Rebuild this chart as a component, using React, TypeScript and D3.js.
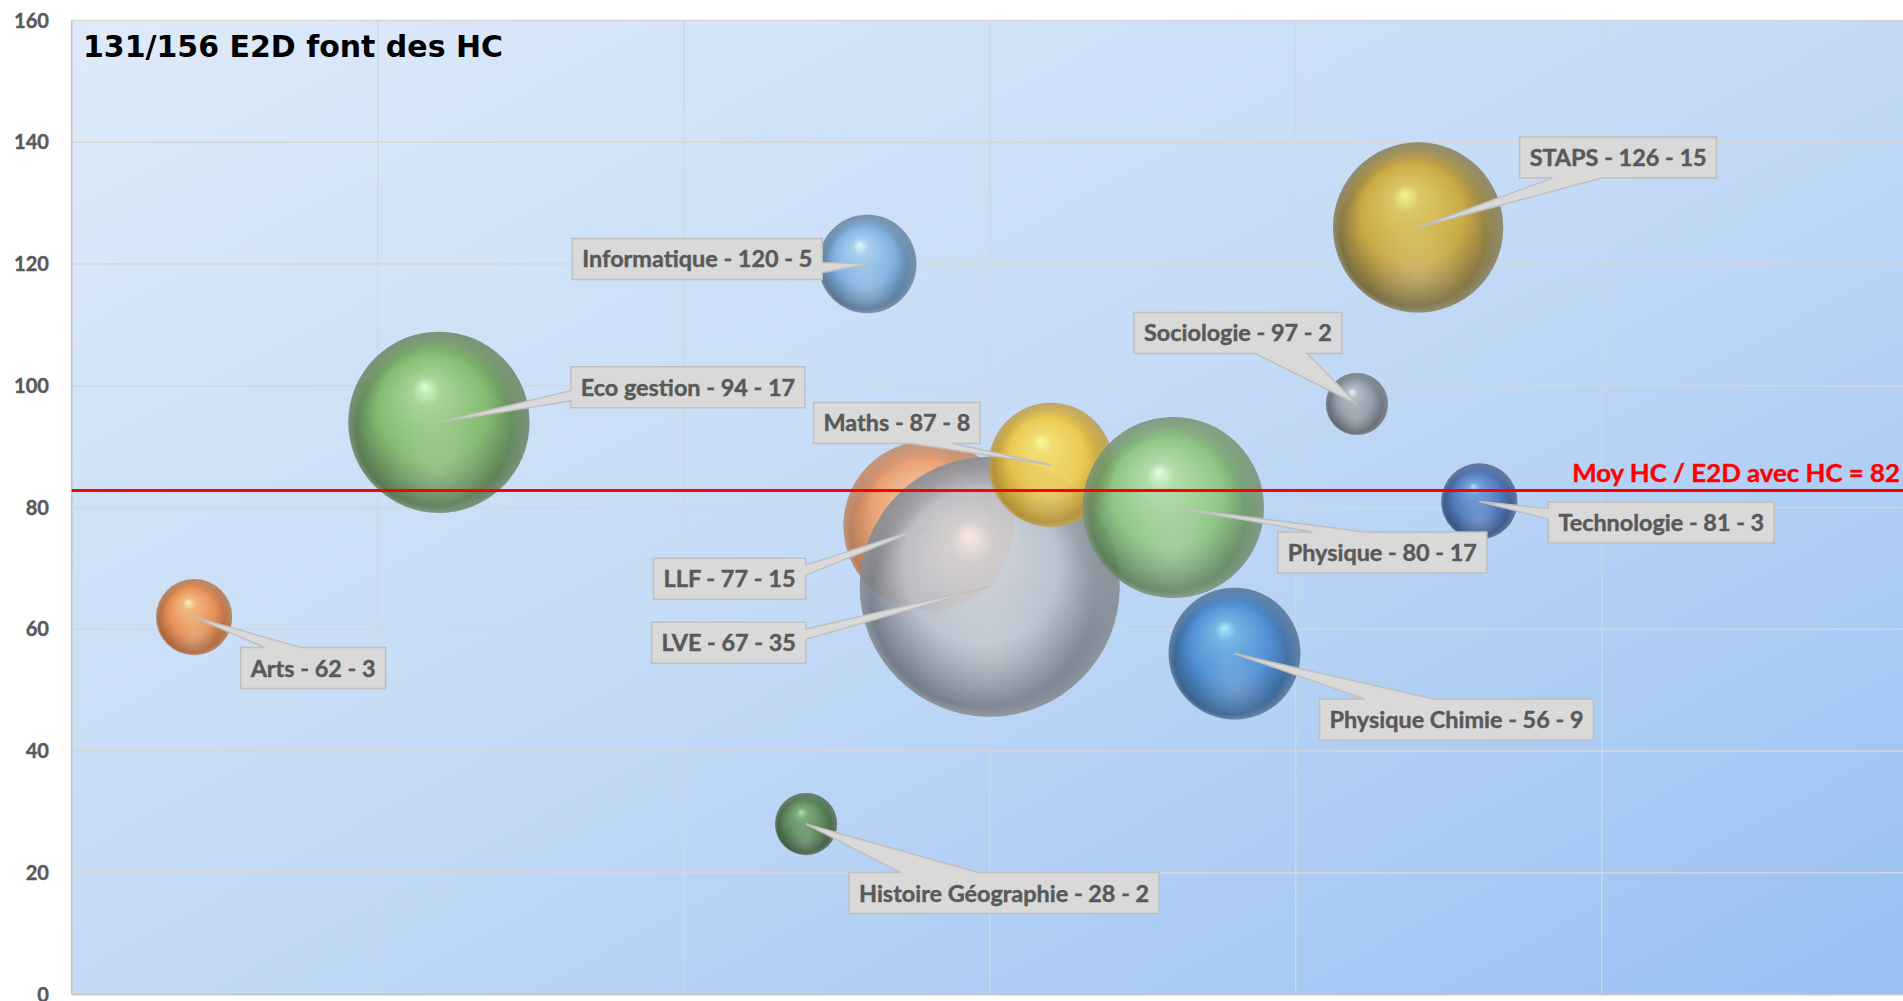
import React, { useMemo } from 'react';
import * as d3 from 'd3';

// ---------- data ----------
const subjects = ['Arts', 'Eco gestion', 'Histoire Géographie', 'Informatique', 'LLF', 'LVE', 'Maths', 'Physique', 'Physique Chimie', 'Sociologie', 'STAPS', 'Technologie'];
const xIndex = [2, 6, 12, 13, 14, 15, 16, 18, 19, 21, 22, 23];
const hcPerE2D = [62, 94, 28, 120, 77, 67, 87, 80, 56, 97, 126, 81];
const e2dCount = [3, 17, 2, 5, 15, 35, 8, 17, 9, 2, 15, 3];
const yTicks = [0, 20, 40, 60, 80, 100, 120, 140, 160];
const xGrid = [0, 5, 10, 15, 20, 25, 30];
const meanHC = 82.8;
const meanLabel = 'Moy HC / E2D avec HC = 82';
const title = '131/156 E2D font des HC';

// ---------- styles / layout ----------
const bubbleColors = [
  { hi: '#FFF4B0', base: '#EC8A48', dark: '#9E5324' },
  { hi: '#DDFFCC', base: '#7DB863', dark: '#45643F' },
  { hi: '#B0E6A8', base: '#54814F', dark: '#30482E' },
  { hi: '#E6FCFF', base: '#7BAEE0', dark: '#44627F' },
  { hi: '#FFE6BC', base: '#EF9C68', dark: '#A86A44' },
  { hi: '#FBF2EC', base: '#B9C0CA', dark: '#626872' },
  { hi: '#FFFF98', base: '#F1C843', dark: '#A8821F' },
  { hi: '#E8FFDC', base: '#8CC57C', dark: '#52724F' },
  { hi: '#A4F0FF', base: '#4789D0', dark: '#27507C' },
  { hi: '#EEF4FC', base: '#8D959F', dark: '#50555C' },
  { hi: '#F8F58A', base: '#CBA533', dark: '#655A2E' },
  { hi: '#ACD8FF', base: '#4874BA', dark: '#29416E' },
];
// label box centre relative to bubble centre (px)
const labelOffsets: [number, number][] = [
  [119, 51], [249, -35], [198, 69], [-170, -5], [-199, 53], [-261, 56],
  [-154, -42], [209, 45], [222, 66], [-119, -71], [200, -70], [182, 21],
];

const W = 1903;
const H = 1001;
const plot = { left: 71.7, right: 1907.7, top: 20.5, bottom: 994.5 };

let ctx: CanvasRenderingContext2D | null = null;
function measure(text: string, font: string): number {
  if (!ctx) ctx = document.createElement('canvas').getContext('2d');
  if (!ctx) return text.length * 50;
  ctx.font = font;
  return ctx.measureText(text).width;
}

function calloutPath(bx: number, by: number, w: number, h: number, tx: number, ty: number): string {
  const cx = bx + w / 2, cy = by + h / 2;
  const ndx = (tx - cx) / w, ndy = (ty - cy) / h;
  const r = bx + w, b = by + h;
  const inside = Math.abs(ndx) <= 0.5 && Math.abs(ndy) <= 0.5;
  let side = 'none';
  if (!inside) {
    if (Math.abs(ndy) >= Math.abs(ndx)) side = ndy < 0 ? 'top' : 'bottom';
    else side = ndx < 0 ? 'left' : 'right';
  }
  const xa = tx < cx ? [bx + w / 6, bx + (5 * w) / 12] : [bx + (7 * w) / 12, bx + (5 * w) / 6];
  const ya = ty < cy ? [by + h / 6, by + (5 * h) / 12] : [by + (7 * h) / 12, by + (5 * h) / 6];
  let p = `M${bx},${by}`;
  if (side === 'top') p += `L${xa[0]},${by}L${tx},${ty}L${xa[1]},${by}`;
  p += `L${r},${by}`;
  if (side === 'right') p += `L${r},${ya[0]}L${tx},${ty}L${r},${ya[1]}`;
  p += `L${r},${b}`;
  if (side === 'bottom') p += `L${xa[1]},${b}L${tx},${ty}L${xa[0]},${b}`;
  p += `L${bx},${b}`;
  if (side === 'left') p += `L${bx},${ya[1]}L${tx},${ty}L${bx},${ya[0]}`;
  p += 'Z';
  return p;
}

export default function App() {
  const x = d3.scaleLinear().domain([0, 30]).range([plot.left, plot.right]);
  const y = d3.scaleLinear().domain([0, 160]).range([plot.bottom, plot.top]);
  const r = d3.scaleSqrt().domain([0, 35]).range([0, 130]);

  const labelFont = '"Lato", "Open Sans", sans-serif';
  const fonts = useMemo(() => {
    const lab = Math.max(18, Math.min(27, (100 * 125) / measure('Arts - 62 - 3', `bold 100px ${labelFont}`)));
    const mean = Math.max(18, Math.min(30, (100 * 328) / measure(meanLabel, `bold 100px ${labelFont}`)));
    const tit = Math.max(20, Math.min(32, (100 * 420) / measure(title, `bold 100px "DejaVu Sans", sans-serif`)));
    const tick = Math.max(15, Math.min(22, (100 * 35) / measure('160', `bold 100px ${labelFont}`)));
    return { lab, mean, tit, tick };
  }, []);
  const labDraw = 23.5;
  const meanDraw = 25.5;
  const meanWidth = measure(meanLabel, `bold ${fonts.mean}px ${labelFont}`);

  const labels = subjects.map((s, i) => {
    const text = `${s} - ${hcPerE2D[i]} - ${e2dCount[i]}`;
    const tw = measure(text, `bold ${fonts.lab}px ${labelFont}`);
    const w = tw + 20;
    const h = 41;
    const cx = x(xIndex[i]);
    const cy = y(hcPerE2D[i]);
    const bcx = cx + labelOffsets[i][0];
    const bcy = cy + labelOffsets[i][1];
    return { text, tw, w, h, bx: bcx - w / 2, by: bcy - h / 2, bcx, bcy, tx: cx, ty: cy };
  });

  return (
    <svg width={W} height={H} style={{ position: 'absolute', left: 0, top: 0, display: 'block', background: '#ffffff' }}>
      <defs>
        <linearGradient id="bg" x1="0" y1="0" x2="1" y2="1">
          <stop offset="0" stopColor="#DEEAF9" />
          <stop offset="0.5" stopColor="#C3DAF6" />
          <stop offset="1" stopColor="#98C0F3" />
        </linearGradient>
        {bubbleColors.map((c, i) => (
          <radialGradient key={i} id={`bub${i}`} cx="0.5" cy="0.5" r="0.5" fx="0.42" fy="0.3">
            <stop offset="0" stopColor={c.hi} />
            <stop offset="0.16" stopColor={d3.interpolateRgb(c.hi, c.base)(0.6)} />
            <stop offset="0.6" stopColor={c.base} />
            <stop offset="0.86" stopColor={d3.interpolateRgb(c.base, c.dark)(0.65)} />
            <stop offset="1" stopColor={c.dark} />
          </radialGradient>
        ))}
        <radialGradient id="refl" cx="0.5" cy="0.78" r="0.3">
          <stop offset="0" stopColor="#ffffff" stopOpacity="0.2" />
          <stop offset="1" stopColor="#ffffff" stopOpacity="0" />
        </radialGradient>
        <radialGradient id="rim" cx="0.5" cy="0.5" r="0.5" fx="0.3" fy="0.75">
          <stop offset="0.85" stopColor="#ffffff" stopOpacity="0" />
          <stop offset="1" stopColor="#ffffff" stopOpacity="0.25" />
        </radialGradient>
        <clipPath id="plotClip">
          <rect x={plot.left} y={plot.top} width={plot.right - plot.left} height={plot.bottom - plot.top} />
        </clipPath>
      </defs>

      <rect x={plot.left} y={plot.top} width={plot.right - plot.left} height={plot.bottom - plot.top} fill="url(#bg)" />

      {/* grid */}
      {xGrid.map((v) => (
        <line key={`gx${v}`} x1={x(v)} x2={x(v)} y1={plot.top} y2={plot.bottom} stroke="#D6D6D6" strokeWidth={1.3} />
      ))}
      {yTicks.map((v) => (
        <line key={`gy${v}`} x1={plot.left} x2={plot.right} y1={y(v)} y2={y(v)} stroke="#D6D6D6" strokeWidth={1.3} />
      ))}
      <line x1={plot.left} x2={plot.left} y1={plot.top} y2={plot.bottom} stroke="#C4C4C4" strokeWidth={1.5} />
      <line x1={plot.left} x2={plot.right} y1={plot.bottom} y2={plot.bottom} stroke="#C4C4C4" strokeWidth={1.5} />

      {/* y tick labels */}
      {yTicks.map((v) => (
        <text key={`t${v}`} x={49} y={y(v) + fonts.tick * 0.36} textAnchor="end" fontFamily={labelFont} fontWeight="bold" fontSize={fonts.tick} fill="#595959" stroke="#595959" strokeWidth={0.4}>
          {v}
        </text>
      ))}

      {/* bubbles */}
      <g clipPath="url(#plotClip)">
        {subjects.map((s, i) => (
          <g key={s} opacity={0.9}>
            <circle cx={x(xIndex[i])} cy={y(hcPerE2D[i])} r={r(e2dCount[i])} fill={`url(#bub${i})`} />
            <circle cx={x(xIndex[i])} cy={y(hcPerE2D[i])} r={r(e2dCount[i])} fill="url(#refl)" />
            <circle cx={x(xIndex[i])} cy={y(hcPerE2D[i])} r={r(e2dCount[i])} fill="url(#rim)" />
          </g>
        ))}
      </g>

      {/* mean line */}
      <line x1={plot.left} x2={plot.right} y1={y(meanHC)} y2={y(meanHC)} stroke="#FF0000" strokeWidth={3} />
      <text x={1900} y={y(meanHC) - 8} textAnchor="end" fontFamily={labelFont} fontWeight="bold" fontSize={meanDraw} fill="#FF0000" stroke="#FF0000" strokeWidth={0.4} textLength={meanWidth} lengthAdjust="spacingAndGlyphs">
        {meanLabel}
      </text>

      {/* callout labels */}
      {labels.map((l, i) => (
        <g key={`l${i}`}>
          <path d={calloutPath(l.bx, l.by, l.w, l.h, l.tx, l.ty)} fill="#D9D9D9" stroke="#BFBFBF" strokeWidth={1.5} strokeLinejoin="miter" />
          <text x={l.bcx - l.tw / 2} y={l.bcy + labDraw * 0.36} fontFamily={labelFont} fontWeight="bold" fontSize={labDraw} fill="#595959" stroke="#595959" strokeWidth={0.45} textLength={l.tw} lengthAdjust="spacingAndGlyphs">
            {l.text}
          </text>
        </g>
      ))}

      {/* title */}
      <text x={83} y={56.7} fontFamily='"DejaVu Sans", sans-serif' fontWeight="bold" fontSize={fonts.tit} fill="#000000">
        {title}
      </text>
    </svg>
  );
}
